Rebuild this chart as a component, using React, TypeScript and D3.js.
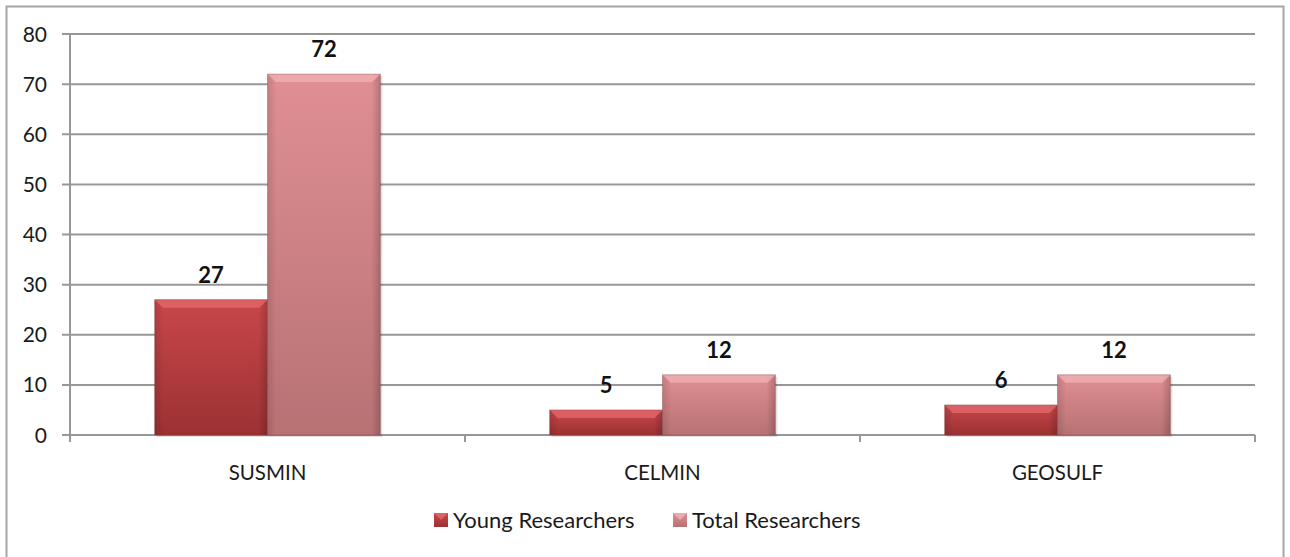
import React from "react";
import * as d3 from "d3";

const categories = ["SUSMIN", "CELMIN", "GEOSULF"];
const youngResearchers = [27, 5, 6];
const totalResearchers = [72, 12, 12];
const seriesNames = ["Young Researchers", "Total Researchers"];
const yTicks = [0, 10, 20, 30, 40, 50, 60, 70, 80];

const W = 1290;
const H = 557;
const plot = { left: 70, right: 1255, top: 34, bottom: 435 };
const FONT = "Lato, 'Open Sans', sans-serif";

export default function App() {
  const x = d3.scaleBand<string>().domain(categories).range([plot.left, plot.right]).paddingInner(0).paddingOuter(0);
  const y = d3.scaleLinear().domain([0, 80]).range([plot.bottom, plot.top]);
  const bw = x.bandwidth() / 3.5;
  const series = [
    { name: seriesNames[0], values: youngResearchers, grad: "gYoung", lite: "#e46a6c" },
    { name: seriesNames[1], values: totalResearchers, grad: "gTotal", lite: "#f1b3b5" },
  ];
  const boundaries = [...categories.map((c) => x(c) as number), plot.right];

  return (
    <svg width={W} height={H} style={{ position: "absolute", left: 0, top: 0, display: "block" }}>
      <defs>
        <linearGradient id="gYoung" x1="0" y1="0" x2="0" y2="1">
          <stop offset="0" stopColor="#c8474a" />
          <stop offset="1" stopColor="#9c3133" />
        </linearGradient>
        <linearGradient id="gTotal" x1="0" y1="0" x2="0" y2="1">
          <stop offset="0" stopColor="#e08f93" />
          <stop offset="1" stopColor="#b87274" />
        </linearGradient>
        <linearGradient id="gSide" x1="0" y1="0" x2="1" y2="0">
          <stop offset="0" stopColor="#000" stopOpacity="0.12" />
          <stop offset="0.08" stopColor="#000" stopOpacity="0" />
          <stop offset="0.92" stopColor="#000" stopOpacity="0" />
          <stop offset="1" stopColor="#000" stopOpacity="0.18" />
        </linearGradient>
      </defs>
      <rect x={0} y={0} width={W} height={H} fill="#fff" />
      <rect x={6.5} y={6.5} width={1277} height={H + 10} fill="none" stroke="#a6a6a6" strokeWidth={2} />

      {yTicks.map((t) => (
        <g key={t}>
          <line x1={62} x2={plot.right} y1={y(t)} y2={y(t)} stroke="#979797" strokeWidth={2} />
          <text x={47} y={y(t)} dy="0.36em" textAnchor="end" fontFamily={FONT} fontSize={21} fill="#1a1a1a">
            {t}
          </text>
        </g>
      ))}
      <line x1={plot.left} x2={plot.left} y1={plot.top} y2={plot.bottom + 6} stroke="#979797" strokeWidth={2} />
      {boundaries.map((b, i) => (
        <line key={i} x1={b} x2={b} y1={plot.bottom} y2={plot.bottom + 7} stroke="#979797" strokeWidth={2} />
      ))}

      {categories.map((c, ci) => {
        const gx = (x(c) as number) + bw * 0.75;
        return (
          <g key={c}>
            {series.map((s, si) => {
              const v = s.values[ci];
              const bx = gx + si * bw;
              const by = y(v);
              const bh = y(0) - by;
              const bev = Math.min(8, bh / 2);
              return (
                <g key={s.name}>
                  <rect x={bx + 2} y={by + 2} width={bw} height={bh} fill="#000" opacity={0.12} />
                  <rect x={bx} y={by} width={bw} height={bh} fill={`url(#${s.grad})`} />
                  <rect x={bx} y={by} width={bw} height={bh} fill="url(#gSide)" />
                  <polygon
                    points={`${bx},${by} ${bx + bw},${by} ${bx + bw - bev},${by + bev} ${bx + bev},${by + bev}`}
                    fill={s.lite}
                    opacity={0.75}
                  />
                  <rect x={bx} y={by} width={bw} height={bh} fill="none" stroke="#7a3a3a" strokeOpacity={0.35} strokeWidth={1} />
                  <text
                    x={bx + bw / 2}
                    y={by - 17}
                    textAnchor="middle"
                    fontFamily={FONT}
                    fontWeight="bold"
                    fontSize={22}
                    fill="#111"
                  >
                    {v}
                  </text>
                </g>
              );
            })}
            <text
              x={(x(c) as number) + x.bandwidth() / 2}
              y={473}
              dy="0.36em"
              textAnchor="middle"
              fontFamily={FONT}
              fontSize={20.5}
              fill="#1a1a1a"
            >
              {c}
            </text>
          </g>
        );
      })}

      {series.map((s, i) => {
        const lx = i === 0 ? 434 : 673;
        return (
          <g key={s.name}>
            <rect x={lx} y={513} width={14} height={14} fill={`url(#${s.grad})`} />
            <polygon points={`${lx},513 ${lx + 14},513 ${lx + 7},520`} fill={s.lite} opacity={0.8} />
            <text x={lx + 19} y={520} dy="0.36em" fontFamily={FONT} fontSize={22} fill="#1a1a1a">
              {s.name}
            </text>
          </g>
        );
      })}
    </svg>
  );
}
